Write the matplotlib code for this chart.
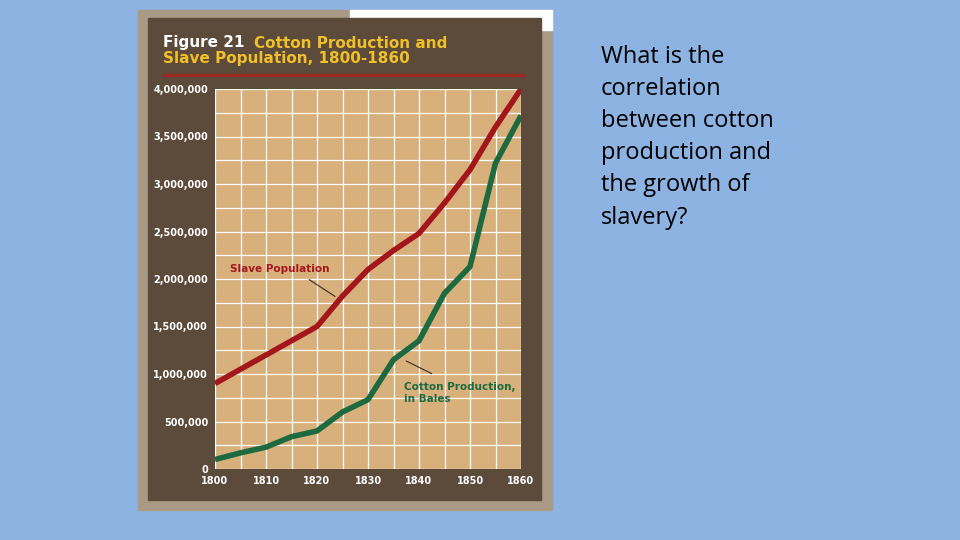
import matplotlib.pyplot as plt
from matplotlib.patches import Rectangle
from matplotlib.ticker import MultipleLocator

years = [1800, 1805, 1810, 1815, 1820, 1825, 1830, 1835, 1840, 1845, 1850, 1855, 1860]
slave_population = [900000, 1050000, 1200000, 1350000, 1500000, 1820000, 2100000,
                    2300000, 2480000, 2800000, 3150000, 3600000, 4000000]
cotton_bales = [100000, 170000, 230000, 340000, 400000, 600000, 730000,
                1150000, 1350000, 1850000, 2130000, 3220000, 3720000]
x_ticks = [1800, 1810, 1820, 1830, 1840, 1850, 1860]
y_ticks = [0, 500000, 1000000, 1500000, 2000000, 2500000, 3000000, 3500000, 4000000]

W, H = 960, 540
BROWN = "#5c4a3a"
TAN = "#d8b07c"
RED = "#a3171c"
GREEN = "#1d6a40"

fig = plt.figure(figsize=(9.6, 5.4), dpi=100)
fig.patch.set_facecolor("#8db3e2")


def box(x0, y0, x1, y1, color):
    # pixel coords, y measured from top
    fig.patches.append(Rectangle((x0 / W, 1 - y1 / H), (x1 - x0) / W, (y1 - y0) / H,
                                 transform=fig.transFigure, color=color, zorder=-1))


box(138, 10, 552, 510, "#a99a86")
box(350, 10, 552, 30, "#ffffff")
box(148, 18, 541, 500, BROWN)
box(163, 74, 524, 76, "#9a2a22")

fig.text(163 / W, 1 - 43 / H, "Figure 21", color="white", fontsize=11,
         fontweight="heavy", va="center")
fig.text(254 / W, 1 - 43 / H, "Cotton Production and", color="#f0c02a",
         fontsize=11, fontweight="heavy", va="center")
fig.text(163 / W, 1 - 59 / H, "Slave Population, 1800-1860", color="#f0c02a",
         fontsize=11, fontweight="heavy", va="center")

ax = fig.add_axes([215 / W, 1 - 469 / H, 306 / W, 380 / H])
ax.set_zorder(2)
ax.set_facecolor(TAN)
ax.plot(years, slave_population, color=RED, lw=4, solid_capstyle="butt", zorder=3)
ax.plot(years, cotton_bales, color=GREEN, lw=4, solid_capstyle="butt", zorder=3)
ax.set_xlim(1800, 1860)
ax.set_ylim(0, 4000000)
ax.xaxis.set_minor_locator(MultipleLocator(5))
ax.yaxis.set_minor_locator(MultipleLocator(250000))
ax.set_xticks(x_ticks)
ax.set_yticks(y_ticks)
ax.set_xticklabels([str(x) for x in x_ticks])
ax.set_yticklabels([f"{y:,}" for y in y_ticks])
ax.grid(True, which="both", color="white", lw=0.9)
ax.tick_params(which="both", length=0, colors="white", labelsize=7, pad=5)
for lbl in ax.get_xticklabels() + ax.get_yticklabels():
    lbl.set_fontweight("bold")
for s in ax.spines.values():
    s.set_visible(False)

ax.text(1803, 2110000, "Slave Population", color=RED, fontsize=7.5, fontweight="bold",
        va="center")
ax.annotate("", xy=(1824, 1800000), xytext=(1818, 2010000),
            arrowprops=dict(arrowstyle="-", color="#3a2a20", lw=0.8))
ax.text(1837, 800000, "Cotton Production,\nin Bales", color=GREEN, fontsize=7.5,
        fontweight="bold", va="center", linespacing=1.3)
ax.annotate("", xy=(1843, 990000), xytext=(1837, 1150000),
            arrowprops=dict(arrowstyle="-", color="#3a2a20", lw=0.8))

fig.text(601 / W, 1 - 45 / H,
         "What is the\ncorrelation\nbetween cotton\nproduction and\nthe growth of\nslavery?",
         fontsize=17, color="black", va="top", linespacing=1.45, family="Open Sans")

fig.savefig("out.png", dpi=100, facecolor=fig.get_facecolor())
